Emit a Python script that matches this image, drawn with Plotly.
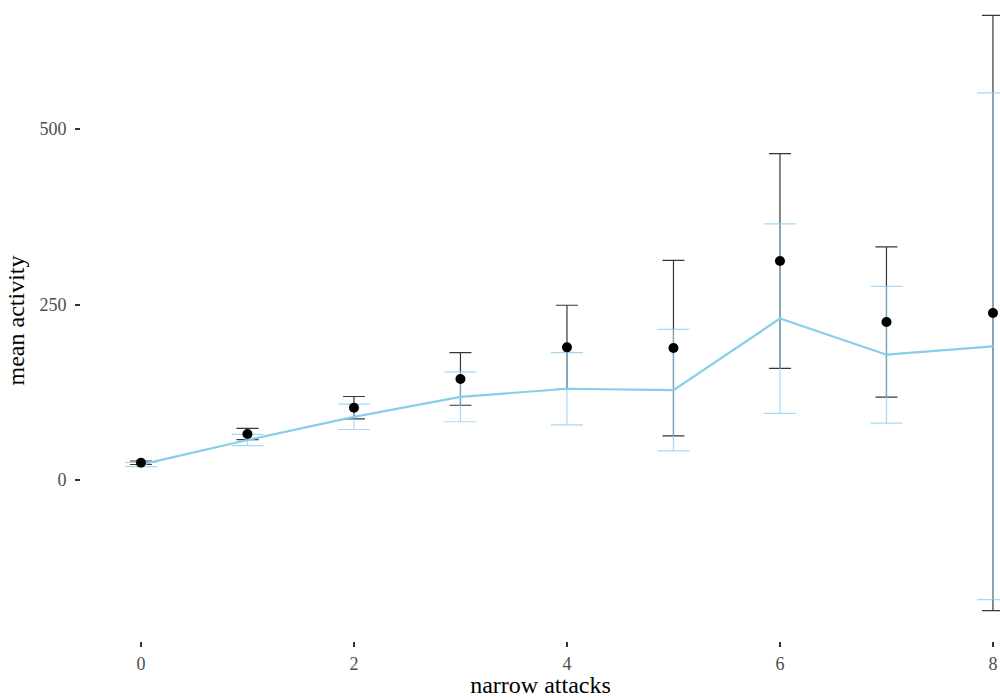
import plotly.graph_objects as go

# data
narrow_attacks = [0, 1, 2, 3, 4, 5, 6, 7, 8]
obs_mean = [24.6, 65.5, 103, 144, 189, 188, 312, 225, 238]
obs_err = [2.5, 8, 16, 37.5, 60, 125, 153, 107, 424]
fit_mean = [22, 57, 90, 118.5, 130, 128, 230, 178.5, 190.5]
fit_err = [3, 8, 18, 35.5, 51.5, 86.5, 135, 97.5, 361]

y_tickvals = [0, 250, 500]
x_tickvals = [0, 2, 4, 6, 8]

FONT = "Liberation Serif"
SKY = "#87CEEB"

fig = go.Figure()

# observed error bars (black)
fig.add_trace(go.Scatter(
    x=narrow_attacks, y=obs_mean, mode="markers",
    marker=dict(size=1, color="rgba(0,0,0,0)"),
    error_y=dict(type="data", array=obs_err, visible=True,
                 color="rgba(20,20,20,0.85)", thickness=1.2, width=11),
    showlegend=False, hoverinfo="skip"))

# fitted line with error bars (skyblue)
fig.add_trace(go.Scatter(
    x=narrow_attacks, y=fit_mean, mode="lines",
    line=dict(color=SKY, width=2.2),
    error_y=dict(type="data", array=fit_err, visible=True,
                 color="rgba(135,206,235,0.75)", thickness=1.2, width=16),
    showlegend=False))

# observed means (black points)
fig.add_trace(go.Scatter(
    x=narrow_attacks, y=obs_mean, mode="markers",
    marker=dict(size=10, color="black"),
    showlegend=False))

fig.update_layout(
    width=1000, height=698,
    margin=dict(l=81, r=0, t=0, b=57),
    plot_bgcolor="white", paper_bgcolor="white",
    font=dict(family=FONT, color="#4d4d4d"),
    xaxis=dict(range=[-0.563, 8.066], tickvals=x_tickvals,
               ticks="outside", ticklen=5, tickwidth=1.5, tickcolor="#333333",
               showgrid=False, zeroline=False, showline=False,
               tickfont=dict(family=FONT, size=18, color="#4d4d4d"),
               ticklabelstandoff=1,
               title=dict(text="narrow attacks", standoff=4,
                          font=dict(family=FONT, size=24, color="black"))),
    yaxis=dict(range=[-229.3, 683.8], tickvals=y_tickvals,
               ticks="outside", ticklen=5, tickwidth=1.5, tickcolor="#333333",
               showgrid=False, zeroline=False, showline=False,
               tickfont=dict(family=FONT, size=18, color="#4d4d4d"),
               ticklabelstandoff=5,
               title=dict(text="mean activity", standoff=8,
                          font=dict(family=FONT, size=24, color="black"))),
)

fig.write_html("out.html")
